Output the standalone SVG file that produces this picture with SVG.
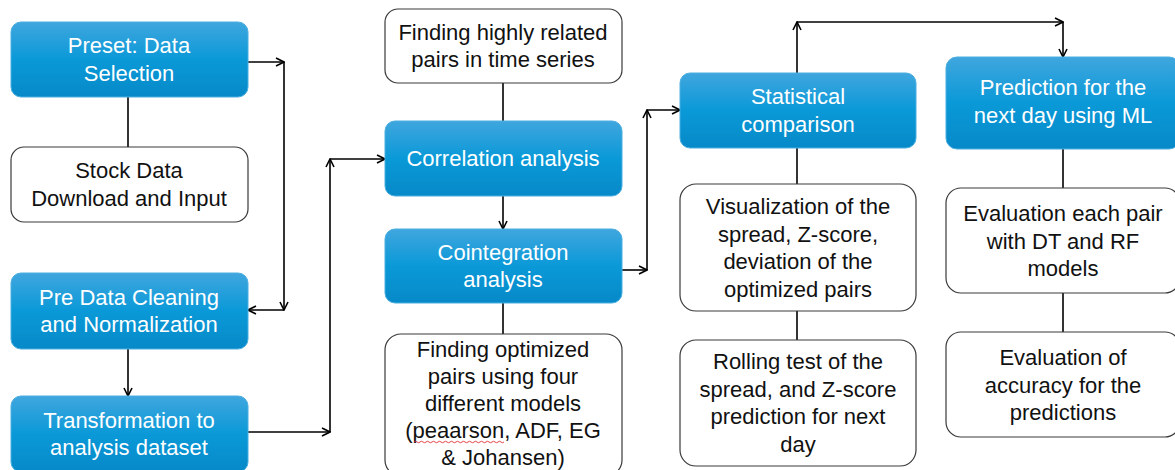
<svg xmlns="http://www.w3.org/2000/svg" width="1175" height="470" viewBox="0 0 1175 470">
<defs>
<linearGradient id="blue" x1="0" y1="0" x2="0" y2="1">
<stop offset="0" stop-color="#40a6de"/>
<stop offset="0.5" stop-color="#0a99d8"/>
<stop offset="1" stop-color="#0789c8"/>
</linearGradient>
<marker id="arr" viewBox="0 0 10 10" refX="9" refY="5" markerWidth="10" markerHeight="10" markerUnits="userSpaceOnUse" orient="auto">
<path d="M1,1 L9,5 L1,9" fill="none" stroke="#000" stroke-width="1.6"/>
</marker>
</defs>
<style>
.b{fill:url(#blue);stroke:#4aaee0;stroke-width:1}
.w{fill:#fff;stroke:#3a3a3a;stroke-width:1.2}
text{font-family:"Liberation Sans",Arial,sans-serif;font-size:22px;text-anchor:middle}
.tb{fill:#fff}
.tw{fill:#111}
.c line,.c path{stroke:#000;stroke-width:1.6;fill:none}
.a{marker-end:url(#arr)}
</style>
<g class="c" id="connectors">
<line x1="128" y1="97" x2="128" y2="147"/>
<line class="a" x1="248" y1="62" x2="284" y2="62"/>
<line class="a" x1="284" y1="62" x2="284" y2="310"/>
<line class="a" x1="284" y1="310" x2="248" y2="310"/>
<line class="a" x1="128" y1="349" x2="128" y2="396"/>
<line class="a" x1="248" y1="432" x2="330" y2="432"/>
<line class="a" x1="330" y1="432" x2="330" y2="159"/>
<line class="a" x1="330" y1="159" x2="385" y2="159"/>
<line x1="503" y1="83" x2="503" y2="121"/>
<line class="a" x1="503" y1="196" x2="503" y2="229"/>
<line x1="503" y1="303" x2="503" y2="334"/>
<line class="a" x1="622" y1="270" x2="647" y2="270"/>
<line class="a" x1="647" y1="270" x2="647" y2="110"/>
<line class="a" x1="647" y1="110" x2="680" y2="110"/>
<line x1="797" y1="148" x2="797" y2="184"/>
<line x1="797" y1="311" x2="797" y2="340"/>
<line class="a" x1="797" y1="73" x2="797" y2="22"/>
<line class="a" x1="797" y1="22" x2="1063" y2="22"/>
<line class="a" x1="1063" y1="22" x2="1063" y2="57"/>
<line x1="1063" y1="148" x2="1063" y2="188"/>
<line x1="1063" y1="293" x2="1063" y2="332"/>
</g>
<g id="n1"><rect class="b" x="11" y="22" width="237" height="75" rx="10"/><text class="tb" x="129" y="53">Preset: Data</text><text class="tb" x="129" y="81">Selection</text></g>
<g id="n2"><rect class="w" x="11" y="147" width="237" height="75" rx="13"/><text class="tw" x="129" y="178">Stock Data</text><text class="tw" x="129" y="206">Download and Input</text></g>
<g id="n3"><rect class="b" x="11" y="273" width="237" height="76" rx="10"/><text class="tb" x="129" y="304.5">Pre Data Cleaning</text><text class="tb" x="129" y="332">and Normalization</text></g>
<g id="n4"><rect class="b" x="11" y="396" width="237" height="76" rx="10"/><text class="tb" x="129" y="427.5">Transformation to</text><text class="tb" x="129" y="455">analysis dataset</text></g>
<g id="n5"><rect class="w" x="385" y="9" width="237" height="74" rx="13"/><text class="tw" x="503" y="39.5">Finding highly related</text><text class="tw" x="503" y="67">pairs in time series</text></g>
<g id="n6"><rect class="b" x="385" y="121" width="237" height="75" rx="10"/><text class="tb" x="503" y="166">Correlation analysis</text></g>
<g id="n7"><rect class="b" x="385" y="229" width="237" height="74" rx="10"/><text class="tb" x="503" y="259.5">Cointegration</text><text class="tb" x="503" y="287">analysis</text></g>
<g id="n8"><rect class="w" x="385" y="334" width="237" height="142" rx="16"/><text class="tw" x="503" y="357">Finding optimized</text><text class="tw" x="503" y="384">pairs using four</text><text class="tw" x="503" y="411">different models</text><text class="tw" x="503" y="438">(peaarson, ADF, EG</text><text class="tw" x="503" y="465">&amp; Johansen)</text><path d="M414,442 q1.5,-1.5 3,0 t3,0 t3,0 t3,0 t3,0 t3,0 t3,0 t3,0 t3,0 t3,0 t3,0 t3,0 t3,0 t3,0 t3,0 t3,0 t3,0 t3,0 t3,0 t3,0 t3,0 t3,0 t3,0 t3,0 t3,0 t3,0 t3,0 t3,0 t3,0 t3,0" fill="none" stroke="#e03030" stroke-width="0.9"/></g>
<g id="n9"><rect class="b" x="680" y="73" width="236" height="75" rx="10"/><text class="tb" x="798" y="104">Statistical</text><text class="tb" x="798" y="131.5">comparison</text></g>
<g id="n10"><rect class="w" x="680" y="184" width="236" height="127" rx="16"/><text class="tw" x="798" y="214">Visualization of the</text><text class="tw" x="798" y="241.5">spread, Z-score,</text><text class="tw" x="798" y="269">deviation of the</text><text class="tw" x="798" y="296.5">optimized pairs</text></g>
<g id="n11"><rect class="w" x="680" y="340" width="236" height="126" rx="16"/><text class="tw" x="798" y="369">Rolling test of the</text><text class="tw" x="798" y="396.5">spread, and Z-score</text><text class="tw" x="798" y="424">prediction for next</text><text class="tw" x="798" y="451.5">day</text></g>
<g id="n12"><rect class="b" x="946" y="57" width="234" height="92" rx="11"/><text class="tb" x="1063" y="95">Prediction for the</text><text class="tb" x="1063" y="122.5">next day using ML</text></g>
<g id="n13"><rect class="w" x="946" y="188" width="234" height="105" rx="15"/><text class="tw" x="1063" y="221">Evaluation each pair</text><text class="tw" x="1063" y="248.5">with DT and RF</text><text class="tw" x="1063" y="276">models</text></g>
<g id="n14"><rect class="w" x="946" y="332" width="234" height="105" rx="15"/><text class="tw" x="1063" y="365">Evaluation of</text><text class="tw" x="1063" y="392.5">accuracy for the</text><text class="tw" x="1063" y="420">predictions</text></g>
</svg>
